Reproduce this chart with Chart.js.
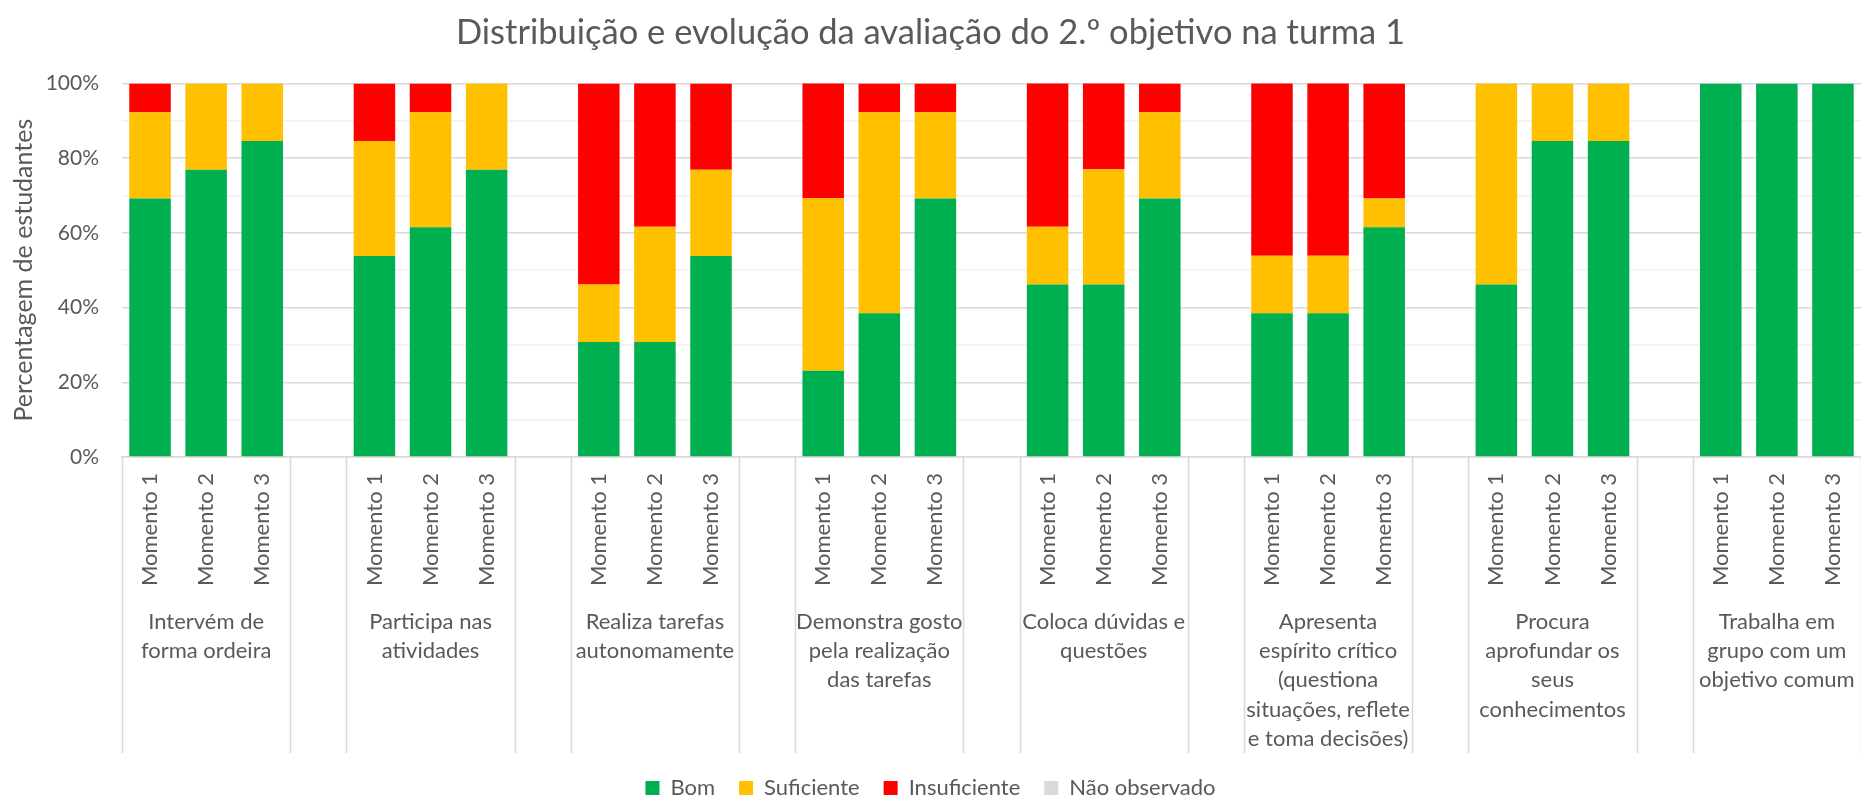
<!DOCTYPE html>
<html lang="pt">
<head>
<meta charset="utf-8">
<title>Distribuição e evolução da avaliação do 2.º objetivo na turma 1</title>
<script src="https://cdn.jsdelivr.net/npm/chart.js@4.4.1/dist/chart.umd.min.js"></script>
<style>
  html, body { margin: 0; padding: 0; background: #FFFFFF; }
  #wrap { width: 1861px; height: 800px; position: relative; }
</style>
</head>
<body>
<div id="wrap"><canvas id="grafico"></canvas></div>
<script>
// Critérios (grupos do eixo X) - linhas de texto tal como aparecem no gráfico
const grupos = [
    ['Intervém de', 'forma ordeira'],
    ['Participa nas', 'atividades'],
    ['Realiza tarefas', 'autonomamente'],
    ['Demonstra gosto', 'pela realização', 'das tarefas'],
    ['Coloca dúvidas e', 'questões'],
    ['Apresenta', 'espírito crítico', '(questiona', 'situações, reflete', 'e toma decisões)'],
    ['Procura', 'aprofundar os', 'seus', 'conhecimentos'],
    ['Trabalha em', 'grupo com um', 'objetivo comum']
];
const momentos = ['Momento 1', 'Momento 2', 'Momento 3'];

// Percentagem de estudantes (3 momentos por critério, pela ordem dos grupos)
const bom = [
    69.2, 76.9, 84.6,
    53.8, 61.5, 76.9,
    30.8, 30.8, 53.8,
    23.1, 38.5, 69.2,
    46.2, 46.2, 69.2,
    38.5, 38.5, 61.5,
    46.2, 84.6, 84.6,
    100, 100, 100
];
const suficiente = [
    23.1, 23.1, 15.4,
    30.8, 30.8, 23.1,
    15.4, 30.8, 23.1,
    46.2, 53.8, 23.1,
    15.4, 30.8, 23.1,
    15.4, 15.4, 7.7,
    53.8, 15.4, 15.4,
    0, 0, 0
];
const insuficiente = [
    7.7, 0, 0,
    15.4, 7.7, 0,
    53.8, 38.5, 23.1,
    30.8, 7.7, 7.7,
    38.5, 23.1, 7.7,
    46.2, 46.2, 30.8,
    0, 0, 0,
    0, 0, 0
];
const naoObservado = [
    0, 0, 0,
    0, 0, 0,
    0, 0, 0,
    0, 0, 0,
    0, 0, 0,
    0, 0, 0,
    0, 0, 0,
    0, 0, 0
];
const yTicks = [0, 20, 40, 60, 80, 100];

const corTexto = '#595959';
const corGrelha = '#D9D9D9';
const corGrelhaMenor = '#F2F2F2';
const fonte = 'Lato, "Open Sans", sans-serif';

// Monta as categorias com uma posição vazia entre grupos (como no Excel)
const labels = [];
function espacar(valores) {
    const out = [];
    grupos.forEach((g, gi) => {
        for (let m = 0; m < momentos.length; m++) out.push(valores[gi * 3 + m]);
        if (gi < grupos.length - 1) out.push(null);
    });
    return out;
}
grupos.forEach((g, gi) => {
    momentos.forEach(m => labels.push(m));
    if (gi < grupos.length - 1) labels.push('');
});

// Plugin: rótulos dos grupos e linhas separadoras do eixo X multinível
const eixoMultinivel = {
    id: 'eixoMultinivel',
    afterDraw(chart) {
        const { ctx, scales: { x }, chartArea } = chart;
        const passo = (x.right - x.left) / labels.length;
        const yFim = 753;
        ctx.save();
        ctx.strokeStyle = corGrelha;
        ctx.lineWidth = 1.5;
        const limites = [];
        grupos.forEach((g, gi) => {
            limites.push(gi * 4);
            limites.push(gi * 4 + 3);
        });
        limites.forEach(i => {
            const px = Math.round(x.left + i * passo) + 0.5;
            ctx.beginPath();
            ctx.moveTo(px, chartArea.bottom);
            ctx.lineTo(px, yFim);
            ctx.stroke();
        });
        ctx.fillStyle = corTexto;
        ctx.font = '22px ' + fonte;
        ctx.textAlign = 'center';
        ctx.textBaseline = 'middle';
        grupos.forEach((linhas, gi) => {
            const cx = x.getPixelForValue(gi * 4 + 1);
            linhas.forEach((t, li) => {
                ctx.fillText(t, cx, 622 + li * 29.2);
            });
        });
        ctx.restore();
    }
};

const ctx = document.getElementById('grafico').getContext('2d');
new Chart(ctx, {
    type: 'bar',
    data: {
        labels: labels,
        datasets: [
            { label: 'Bom', data: espacar(bom), backgroundColor: '#00B050' },
            { label: 'Suficiente', data: espacar(suficiente), backgroundColor: '#FFC000' },
            { label: 'Insuficiente', data: espacar(insuficiente), backgroundColor: '#FF0000' },
            { label: 'Não observado', data: espacar(naoObservado), backgroundColor: '#D9D9D9' }
        ]
    },
    options: {
        responsive: true,
        maintainAspectRatio: false,
        animation: false,
        layout: { padding: { left: 0, right: 0, top: 0, bottom: -9 } },
        datasets: {
            bar: { barPercentage: 0.74, categoryPercentage: 1.0, borderWidth: 0 }
        },
        plugins: {
            title: {
                display: true,
                text: 'Distribuição e evolução da avaliação do 2.º objetivo na turma 1',
                color: corTexto,
                font: { family: fonte, size: 34.5, weight: 'normal' },
                padding: { top: 12, bottom: 30 }
            },
            legend: {
                position: 'bottom',
                labels: {
                    color: corTexto,
                    font: { family: fonte, size: 22 },
                    boxWidth: 14,
                    boxHeight: 14,
                    padding: 24
                }
            },
            tooltip: { enabled: false }
        },
        scales: {
            x: {
                stacked: true,
                grid: { display: false, drawTicks: false },
                border: { display: true, color: corGrelha, width: 1.5 },
                ticks: {
                    color: corTexto,
                    font: { family: fonte, size: 22 },
                    minRotation: 90,
                    maxRotation: 90,
                    autoSkip: false,
                    padding: 16
                },
                afterFit(scale) {
                    scale.height = 296;
                    scale.paddingLeft = 0;
                    scale.paddingRight = 0;
                }
            },
            y: {
                stacked: true,
                min: 0,
                max: 100,
                grid: {
                    drawTicks: false,
                    lineWidth: 1.5,
                    color: c => (yTicks.includes(c.tick.value) ? corGrelha : corGrelhaMenor)
                },
                border: { display: false },
                ticks: {
                    stepSize: 10,
                    color: corTexto,
                    font: { family: fonte, size: 21 },
                    padding: 23,
                    callback: v => (yTicks.includes(v) ? v + '%' : '')
                },
                title: {
                    display: true,
                    text: 'Percentagem de estudantes',
                    color: corTexto,
                    font: { family: fonte, size: 25 },
                    padding: { top: 9, bottom: 0 }
                },
                afterFit(scale) { scale.width = 122; }
            }
        }
    },
    plugins: [eixoMultinivel]
});
</script>
</body>
</html>
